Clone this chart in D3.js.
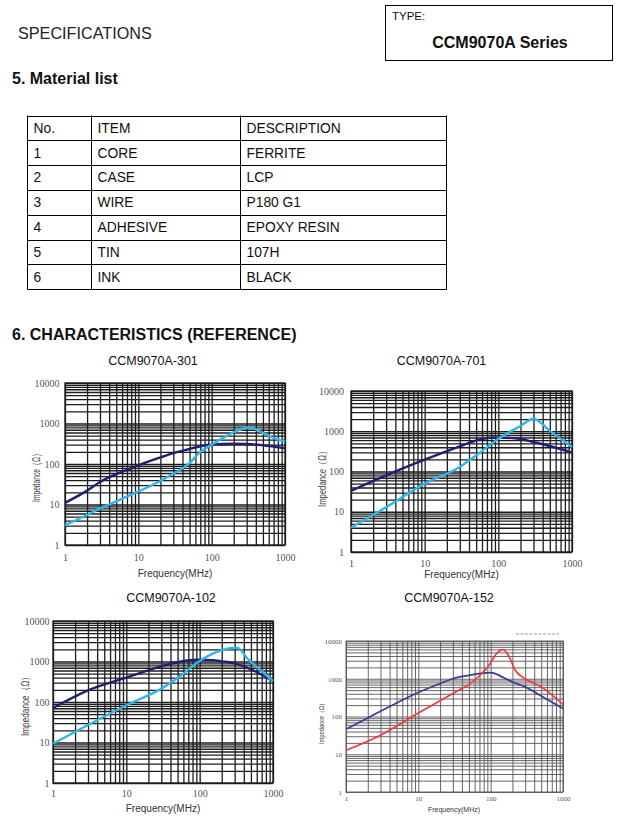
<!DOCTYPE html>
<html><head><meta charset="utf-8">
<script src="https://cdn.jsdelivr.net/npm/d3@7"></script>
<style>body{margin:0;background:#fff}svg{display:block}</style>
</head><body>
<script>
// ---------- data ----------
const tableHeader = ["No.", "ITEM", "DESCRIPTION"];
const tableNo = ["1", "2", "3", "4", "5", "6"];
const tableItem = ["CORE", "CASE", "WIRE", "ADHESIVE", "TIN", "INK"];
const tableDesc = ["FERRITE", "LCP", "P180 G1", "EPOXY RESIN", "107H", "BLACK"];

const xTickValues = [1, 10, 100, 1000];
const yTickValues = [1, 10, 100, 1000, 10000];
const chartTitles = ["CCM9070A-301", "CCM9070A-701", "CCM9070A-102", "CCM9070A-152"];

// CCM9070A-301
const f301Dark = [1, 2, 3, 5, 10, 20, 30, 50, 70, 100, 200, 300, 500, 1000];
const z301Dark = [11, 22, 36, 56, 93, 145, 185, 235, 275, 300, 315, 312, 290, 245];
const f301Light = [1, 2, 3, 5, 10, 20, 30, 50, 70, 100, 150, 200, 330, 500, 700, 1000];
const z301Light = [3.1, 5.5, 8, 12, 21, 38, 58, 105, 200, 300, 460, 610, 800, 590, 440, 360];

// CCM9070A-701
const f701Dark = [1, 3, 10, 30, 50, 80, 100, 180, 300, 1000];
const z701Dark = [33, 80, 196, 420, 590, 690, 695, 660, 540, 300];
const f701Light = [1, 3, 10, 30, 50, 100, 200, 300, 500, 1000];
const z701Light = [4, 13, 50, 130, 250, 650, 1350, 2050, 1020, 405];

// CCM9070A-102
const f102Dark = [1, 3, 10, 30, 50, 100, 150, 200, 300, 500, 1000];
const z102Dark = [71, 194, 400, 760, 960, 1100, 1080, 1010, 900, 640, 330];
const f102Light = [1, 3, 10, 30, 50, 100, 200, 280, 330, 450, 700, 1000];
const z102Light = [9.4, 27, 83, 214, 390, 1030, 1900, 2150, 2150, 1170, 580, 330];

// CCM9070A-152
const f152Navy = [1, 2, 5, 10, 20, 30, 50, 100, 150, 200, 300, 500, 1000];
const z152Navy = [46, 91, 228, 430, 745, 1000, 1230, 1450, 1080, 820, 610, 350, 162];
const f152Red = [1, 3, 10, 20, 40, 50, 70, 100, 120, 150, 180, 220, 300, 500, 1000];
const z152Red = [12.7, 32, 124, 263, 550, 700, 1200, 2620, 4600, 5900, 3800, 1660, 1000, 610, 210];

// ---------- layout ----------
const svg = d3.select("body").append("svg").attr("width", 621).attr("height", 816);
const SANS = "'Liberation Sans', Arial, sans-serif";
const SERIF = "'Liberation Serif', 'Times New Roman', serif";

svg.append("text").attr("x", 18).attr("y", 39).attr("font-family", SANS)
  .attr("font-size", 16.2).attr("fill", "#222").text("SPECIFICATIONS");

svg.append("rect").attr("x", 385.5).attr("y", 5.5).attr("width", 227).attr("height", 55)
  .attr("fill", "none").attr("stroke", "#000").attr("stroke-width", 1);
svg.append("text").attr("x", 392).attr("y", 19.5).attr("font-family", SANS)
  .attr("font-size", 11.5).attr("fill", "#111").text("TYPE:");
svg.append("text").attr("x", 500).attr("y", 47.5).attr("text-anchor", "middle").attr("font-family", SANS)
  .attr("font-size", 16).attr("font-weight", "bold").attr("fill", "#111").text("CCM9070A Series");

svg.append("text").attr("x", 12).attr("y", 84).attr("font-family", SANS)
  .attr("font-size", 16).attr("font-weight", "bold").attr("fill", "#111").text("5. Material list");

svg.append("text").attr("x", 12).attr("y", 340).attr("font-family", SANS)
  .attr("font-size", 16).attr("font-weight", "bold").attr("fill", "#111").text("6. CHARACTERISTICS (REFERENCE)");

// ---------- table ----------
const rows = [tableHeader].concat(tableNo.map((n, i) => [n, tableItem[i], tableDesc[i]]));
const colX = [27.5, 91.5, 240.5, 446.5];
const rowTop = 115.5, rowH = 24.8;
const tg = svg.append("g");
rows.forEach((r, i) => {
  r.forEach((t, j) => {
    tg.append("text").attr("x", colX[j] + 6).attr("y", rowTop + i * rowH + 17.2)
      .attr("font-family", SANS).attr("font-size", 13.8).attr("fill", "#111").text(t);
  });
});
for (let i = 0; i <= rows.length; i++) {
  tg.append("line").attr("x1", colX[0]).attr("x2", colX[3])
    .attr("y1", Math.round(rowTop + i * rowH) + 0.5).attr("y2", Math.round(rowTop + i * rowH) + 0.5)
    .attr("stroke", "#000");
}
colX.forEach(cx => {
  tg.append("line").attr("x1", cx).attr("x2", cx).attr("y1", rowTop).attr("y2", Math.round(rowTop + rows.length * rowH) + 0.5)
    .attr("stroke", "#000");
});

// ---------- charts ----------
const navy = "#1f1f72", cyan = "#2db6ea";
const charts = [
  { title: chartTitles[0], px: 65, py: 383, pw: 220, ph: 162, tx: 153, ty: 365, tfs: 12.5,
    tick: 10, xpad: 9, ypad: 5.5, xlab: [175, 577, 10], ylab: [35.5, 476, 10.5, 52],
    grid: "#1c1c1c", gw: 1.3,
    series: [[f301Dark, z301Dark, navy, 2.4], [f301Light, z301Light, cyan, 2.4]] },
  { title: chartTitles[1], px: 351, py: 391, pw: 221, ph: 161, tx: 441.5, ty: 365, tfs: 12.5,
    tick: 10, xpad: 7.4, ypad: 7, xlab: [461.5, 578, 10], ylab: [322, 477, 10.5, 60],
    grid: "#1c1c1c", gw: 1.3,
    series: [[f701Dark, z701Dark, navy, 2.4], [f701Light, z701Light, cyan, 2.4]] },
  { title: chartTitles[2], px: 53, py: 621, pw: 220, ph: 162, tx: 171, ty: 602, tfs: 12.5,
    tick: 10, xpad: 7, ypad: 3.5, xlab: [163, 812, 10], ylab: [24.5, 704, 10.5, 64],
    grid: "#1c1c1c", gw: 1.3,
    series: [[f102Dark, z102Dark, navy, 2.4], [f102Light, z102Light, cyan, 2.4]] },
  { title: chartTitles[3], px: 346, py: 641, pw: 217, ph: 151, tx: 449, ty: 602, tfs: 12.5,
    tick: 7, xpad: 4, ypad: 4, xlab: [454, 811.5, 7], ylab: [321, 722, 7, 44],
    grid: "#555", gw: 0.9, legend: true,
    series: [[f152Navy, z152Navy, "#3a3a8e", 1.7], [f152Red, z152Red, "#ee3b3b", 1.7]] }
];

const xGrid = [], yGrid = [];
for (let d = 0; d < 3; d++) for (let k = 1; k <= 9; k++) xGrid.push(k * Math.pow(10, d));
xGrid.push(1000);
for (let d = 0; d < 4; d++) for (let k = 1; k <= 9; k++) yGrid.push(k * Math.pow(10, d));
yGrid.push(10000);

charts.forEach(c => {
  const x = d3.scaleLog().domain([1, 1000]).range([0, c.pw]);
  const y = d3.scaleLog().domain([1, 10000]).range([c.ph, 0]);

  svg.append("text").attr("x", c.tx).attr("y", c.ty).attr("text-anchor", "middle")
    .attr("font-family", SANS).attr("font-size", c.tfs).attr("fill", "#111").text(c.title);

  const g = svg.append("g").attr("transform", `translate(${c.px},${c.py})`);

  // grid
  const gx = g.append("g").attr("transform", `translate(0,${c.ph})`)
    .call(d3.axisBottom(x).tickValues(xGrid).tickSize(-c.ph).tickFormat(""));
  const gy = g.append("g")
    .call(d3.axisLeft(y).tickValues(yGrid).tickSize(-c.pw).tickFormat(""));
  [gx, gy].forEach(a => {
    a.select(".domain").remove();
    a.selectAll("line").attr("stroke", c.grid).attr("stroke-width", c.gw);
  });
  g.append("rect").attr("width", c.pw).attr("height", c.ph).attr("fill", "none")
    .attr("stroke", c.grid).attr("stroke-width", c.gw);

  // tick labels
  const ax = g.append("g").attr("transform", `translate(0,${c.ph})`)
    .call(d3.axisBottom(x).tickValues(xTickValues).tickSize(0).tickPadding(c.xpad).tickFormat(d3.format("d")));
  const ay = g.append("g")
    .call(d3.axisLeft(y).tickValues(yTickValues).tickSize(0).tickPadding(c.ypad).tickFormat(d3.format("d")));
  [ax, ay].forEach(a => {
    a.select(".domain").remove();
    a.selectAll("text").attr("font-family", SERIF).attr("font-size", c.tick).attr("fill", "#555");
  });

  // curves
  const line = d3.line().x(d => x(d[0])).y(d => y(d[1])).curve(d3.curveMonotoneX);
  c.series.forEach(s => {
    const pts = s[0].map((f, i) => [f, s[1][i]]);
    g.append("path").attr("d", line(pts)).attr("fill", "none")
      .attr("stroke", s[2]).attr("stroke-width", s[3]).attr("stroke-linejoin", "round");
  });

  // axis titles
  svg.append("text").attr("x", c.xlab[0]).attr("y", c.xlab[1]).attr("text-anchor", "middle")
    .attr("font-family", SANS).attr("font-size", c.xlab[2]).attr("fill", "#333").text("Frequency(MHz)");
  svg.append("text").attr("transform", `translate(${c.ylab[0]},${c.ylab[1]}) rotate(-90)`)
    .attr("text-anchor", "middle").attr("dominant-baseline", "central")
    .attr("font-family", SANS).attr("font-size", c.ylab[2]).attr("fill", "#444")
    .attr("textLength", c.ylab[3]).attr("lengthAdjust", "spacingAndGlyphs")
    .text("Impedance（Ω）");

  if (c.legend) {
    svg.append("line").attr("x1", 516).attr("x2", 559).attr("y1", 634).attr("y2", 634)
      .attr("stroke", "#999").attr("stroke-width", 1).attr("stroke-dasharray", "3,1.5");
  }
});
</script>
</body></html>
